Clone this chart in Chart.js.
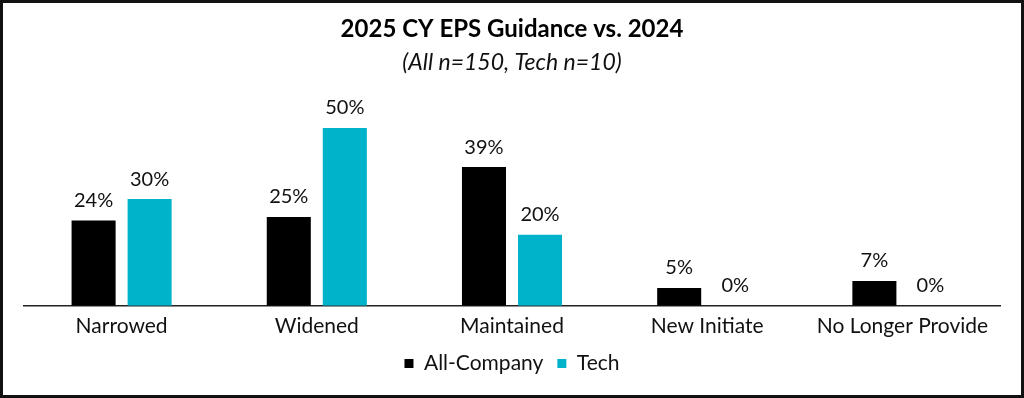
<!DOCTYPE html>
<html>
<head>
<meta charset="utf-8">
<script src="https://cdn.jsdelivr.net/npm/chart.js@4"></script>
<style>
    body { margin: 0; background: #fff; }
    #caixa { position: relative; width: 1024px; height: 398px; }
    #moldura { position: absolute; left: 0; top: 0; width: 1024px; height: 398px; box-sizing: border-box; border: 3px solid #111; pointer-events: none; }
</style>
</head>
<body>
<div id="caixa">
    <canvas id="grafico" width="1024" height="398"></canvas>
    <div id="moldura"></div>
</div>
<script>
// DADOS
const categorias = ['Narrowed', 'Widened', 'Maintained', 'New Initiate', 'No Longer Provide'];
const allCompany = [0.24, 0.25, 0.39, 0.05, 0.07];
const tech = [0.30, 0.50, 0.20, 0.00, 0.00];
const series = ['All-Company', 'Tech'];
const cores = ['#000000', '#00B3CB'];

const fonte = 'Lato, "Open Sans", sans-serif';

// Formata percentual
const pct = (v) => Math.round(v * 100) + '%';

// RÓTULOS ACIMA DAS BARRAS
const rotulos = {
    id: 'rotulos',
    afterDatasetsDraw(chart) {
        const ctx = chart.ctx;
        ctx.save();
        ctx.font = '20px ' + fonte;
        ctx.fillStyle = '#111';
        ctx.textAlign = 'center';
        ctx.textBaseline = 'bottom';
        chart.data.datasets.forEach((ds, i) => {
            const meta = chart.getDatasetMeta(i);
            meta.data.forEach((bar, j) => {
                ctx.fillText(pct(ds.data[j]), bar.x, bar.y - 10);
            });
        });
        ctx.restore();
    }
};

new Chart(document.getElementById('grafico'), {
    type: 'bar',
    data: {
        labels: categorias,
        datasets: [
            { label: series[0], data: allCompany, backgroundColor: cores[0] },
            { label: series[1], data: tech, backgroundColor: cores[1] }
        ]
    },
    options: {
        responsive: false,
        animation: false,
        devicePixelRatio: 1,
        categoryPercentage: 0.574,
        barPercentage: 0.786,
        layout: { padding: { left: 24, right: 24, top: 0, bottom: 14 } },
        scales: {
            x: {
                grid: { display: false },
                border: { display: true, color: '#222', width: 1.5 },
                ticks: { color: '#111', font: { family: fonte, size: 21 }, padding: 0 }
            },
            y: {
                display: false,
                min: 0,
                max: 0.6
            }
        },
        plugins: {
            title: {
                display: true,
                text: '2025 CY EPS Guidance vs. 2024',
                color: '#000',
                font: { family: fonte, size: 24, weight: 'bold' },
                padding: { top: 15, bottom: 5 }
            },
            subtitle: {
                display: true,
                text: '(All n=150, Tech n=10)',
                color: '#111',
                font: { family: fonte, size: 23, style: 'italic' },
                padding: { top: 0, bottom: 16 }
            },
            legend: {
                position: 'bottom',
                labels: {
                    color: '#111',
                    font: { family: fonte, size: 21 },
                    boxWidth: 9,
                    boxHeight: 9,
                    padding: 14
                }
            },
            tooltip: { enabled: false }
        }
    },
    plugins: [rotulos]
});
</script>
</body>
</html>
